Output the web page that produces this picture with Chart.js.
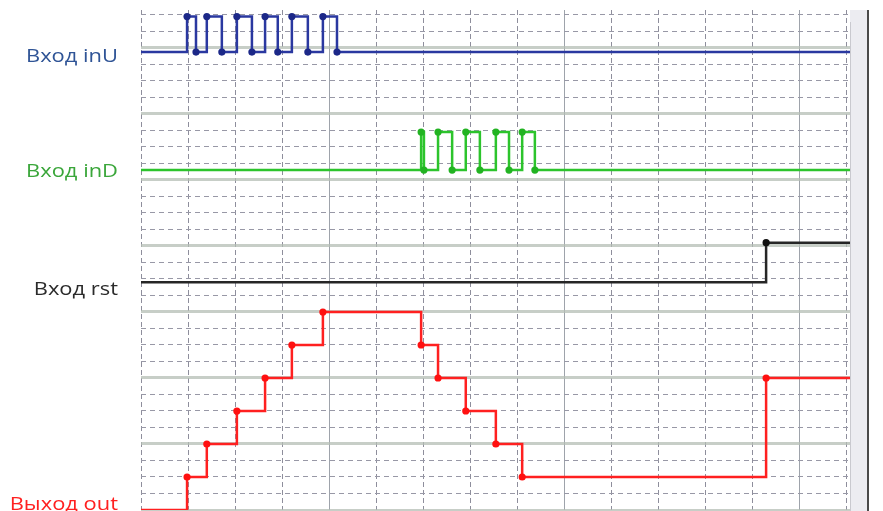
<!DOCTYPE html>
<html>
<head>
<meta charset="utf-8">
<script src="https://cdn.jsdelivr.net/npm/chart.js@4.4.0/dist/chart.umd.min.js"></script>
<style>
    html, body { margin: 0; padding: 0; background: #fff; overflow: hidden; }
    #wrap { width: 883px; height: 511px; position: relative; }
</style>
</head>
<body>
<div id="wrap"><canvas id="timingChart" width="883" height="511"></canvas></div>
<script>
// signal names (left labels)
const signalNames = ["Вход inU", "Вход inD", "Вход rst", "Выход out"];

// time ticks (one grid cell per unit)
const timeTicks = [0, 1, 2, 3, 4, 5, 6, 7, 8, 9, 10, 11, 12, 13, 14, 15];
const rowTicks = [0, 1, 2, 3, 4, 5, 6, 7, 8, 9, 10, 11, 12, 13, 14, 15, 16, 17, 18, 19, 20, 21, 22, 23, 24, 25, 26, 27, 28, 29, 30];

// input inU: pulse train
const inUTimes = [0, 0.98, 1.17, 1.40, 1.72, 2.04, 2.36, 2.64, 2.91, 3.21, 3.55, 3.87, 4.17, 15.1];
const inUStates = [0, 1, 0, 1, 0, 1, 0, 1, 0, 1, 0, 1, 0, 0];

// input inD: pulse train
const inDTimes = [0, 5.96, 6.02, 6.32, 6.62, 6.91, 7.21, 7.55, 7.83, 8.11, 8.38, 15.1];
const inDStates = [0, 1, 0, 1, 0, 1, 0, 1, 0, 1, 0, 0];

// input rst
const rstTimes = [0, 13.3, 15.1];
const rstStates = [0, 1, 1];

// output counter
const outTimes = [0, 0.98, 1.40, 2.04, 2.64, 3.21, 3.87, 5.96, 6.32, 6.91, 7.55, 8.11, 13.3, 15.1];
const outCounts = [0, 1, 2, 3, 4, 5, 6, 5, 4, 3, 2, 1, 4, 4];

document.addEventListener("DOMContentLoaded", function () {
    const canvas = document.getElementById("timingChart");

    function buildPoints(times, values, base, amplitude) {
        return times.map(function (t, i) {
            return { x: t, y: base + values[i] * amplitude };
        });
    }

    function edgeRadius(times, r) {
        return times.map(function (t, i) {
            return (i === 0 || i === times.length - 1) ? 0 : r;
        });
    }

    function isMajor(value, every) {
        return Math.round(value) % every === 0;
    }

    function signalDataset(points, times, color, markColor) {
        return {
            data: points,
            stepped: true,
            borderColor: color,
            borderWidth: 2.5,
            pointRadius: edgeRadius(times, 3.6),
            pointBackgroundColor: markColor,
            pointBorderColor: markColor,
            pointBorderWidth: 0,
            fill: false
        };
    }

    const framePlugin = {
        id: "frame",
        beforeDraw: function (chart) {
            const ctx = chart.ctx;
            const area = chart.chartArea;
            ctx.save();
            ctx.fillStyle = "#ffffff";
            ctx.fillRect(0, 0, chart.width, chart.height);
            // scroll strip on the right
            ctx.fillStyle = "#ececf1";
            ctx.fillRect(area.right, area.top, 17, chart.height - area.top);
            ctx.fillStyle = "#c9c9cf";
            ctx.fillRect(area.right, area.top + 12, 1, chart.height - area.top - 12);
            ctx.fillStyle = "#4a4a4a";
            ctx.fillRect(area.right + 17, area.top, 2, chart.height - area.top);
            ctx.restore();
        },
        afterDraw: function (chart) {
            const ctx = chart.ctx;
            const labelColors = ["#2f5496", "#3aa63a", "#2b2b2b", "#ff2020"];
            const baselines = [62, 177, 295, 510];
            ctx.save();
            ctx.font = "18px 'Open Sans', sans-serif";
            const stretch = 92 / ctx.measureText(signalNames[0]).width;
            ctx.textAlign = "right";
            ctx.textBaseline = "alphabetic";
            signalNames.forEach(function (name, i) {
                ctx.save();
                ctx.translate(118, baselines[i]);
                ctx.scale(stretch, 1);
                ctx.fillStyle = labelColors[i];
                ctx.fillText(name, 0, 0);
                ctx.restore();
            });
            ctx.restore();
        }
    };

    new Chart(canvas, {
        type: "line",
        data: {
            datasets: [
                signalDataset(buildPoints(inUTimes, inUStates, 27.75, 2.15), inUTimes, "#2a38a0", "#1c2888"),
                signalDataset(buildPoints(inDTimes, inDStates, 20.6, 2.3), inDTimes, "#2cc42c", "#22b322"),
                signalDataset(buildPoints(rstTimes, rstStates, 13.8, 2.4), rstTimes, "#262626", "#111111"),
                signalDataset(buildPoints(outTimes, outCounts, 0, 2), outTimes, "#ff2020", "#ff1010")
            ]
        },
        options: {
            responsive: false,
            animation: false,
            layout: {
                autoPadding: false,
                padding: { left: 141, right: 33, top: 10, bottom: 1 }
            },
            plugins: {
                legend: { display: false },
                tooltip: { enabled: false }
            },
            scales: {
                x: {
                    type: "linear",
                    min: 0,
                    max: 15.085,
                    afterBuildTicks: function (scale) {
                        scale.ticks = timeTicks.map(function (v) { return { value: v }; });
                    },
                    ticks: { display: false },
                    border: {
                        display: false,
                        dash: function (ctx) {
                            return (ctx.tick && isMajor(ctx.tick.value + 1, 5)) ? [] : [5, 3];
                        }
                    },
                    grid: {
                        drawTicks: false,
                        color: function (ctx) {
                            return (ctx.tick && isMajor(ctx.tick.value + 1, 5)) ? "#9ea3ab" : "#8e8e9c";
                        },
                        lineWidth: 1
                    }
                },
                y: {
                    type: "linear",
                    min: 0,
                    max: 30.3,
                    afterBuildTicks: function (scale) {
                        scale.ticks = rowTicks.map(function (v) { return { value: v }; });
                    },
                    ticks: { display: false },
                    border: {
                        display: false,
                        dash: function (ctx) {
                            return (ctx.tick && isMajor(ctx.tick.value, 4)) ? [] : [5, 4];
                        }
                    },
                    grid: {
                        drawTicks: false,
                        color: function (ctx) {
                            return (ctx.tick && isMajor(ctx.tick.value, 4)) ? "rgba(180,190,180,0.75)" : "#9898a6";
                        },
                        lineWidth: function (ctx) {
                            return (ctx.tick && isMajor(ctx.tick.value, 4)) ? 3 : 1;
                        }
                    }
                }
            }
        },
        plugins: [framePlugin]
    });
});
</script>
</body>
</html>
